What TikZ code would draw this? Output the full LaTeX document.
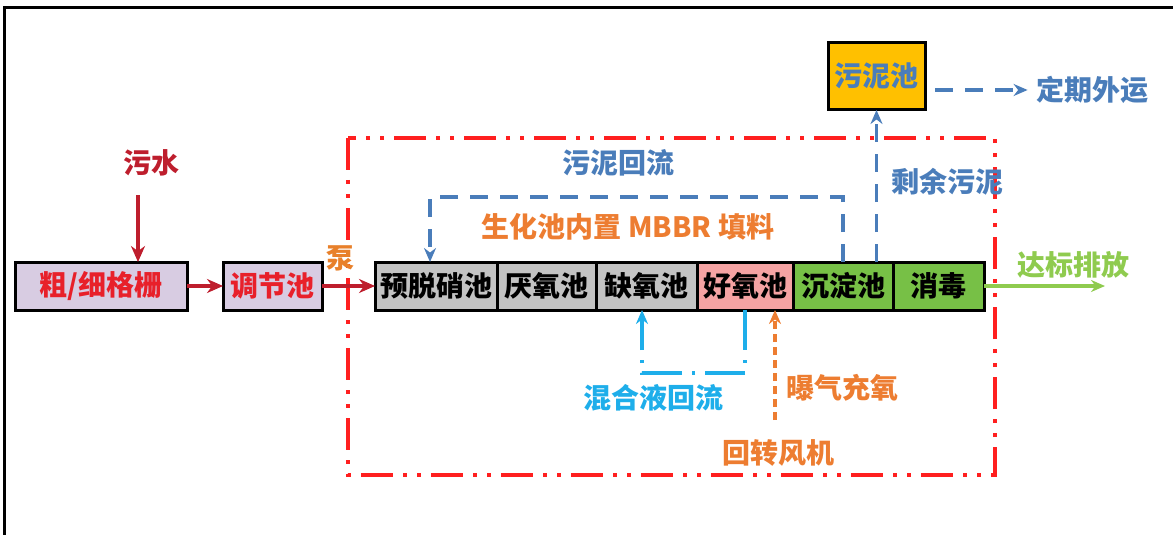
\documentclass[tikz,border=0pt]{standalone}
\usepackage{fontspec}
\newfontfamily\cjk{Noto Sans CJK SC}
\usetikzlibrary{arrows.meta,positioning}

\definecolor{lavbox}{HTML}{D8CCE2}
\definecolor{redtext}{HTML}{E8202A}
\definecolor{darkred}{HTML}{BE1E2D}
\definecolor{pumporange}{HTML}{E8802A}
\definecolor{framered}{HTML}{FF1F1F}
\definecolor{sludgeblue}{HTML}{4A7DBA}
\definecolor{sludgefill}{HTML}{FFC000}
\definecolor{mixcyan}{HTML}{1EAEEA}
\definecolor{airorange}{HTML}{ED7D31}
\definecolor{outgreen}{HTML}{8FCB4F}
\definecolor{poolgreen}{HTML}{77C046}
\definecolor{poolpink}{HTML}{F5A3A3}
\definecolor{poolgray}{HTML}{C3C3C3}

\tikzset{
    lbl/.style={font=\cjk\bfseries\fontsize{14}{16}\selectfont, inner sep=0pt},
    pool/.style={lbl, draw=black, line width=1.5pt, minimum height=24pt, outer sep=0pt},
    redflow/.style={darkred, line width=1.8pt, -{Stealth[length=8pt,width=7pt]}},
    bluedash/.style={sludgeblue, line width=1.9pt, dash pattern=on 9pt off 6pt},
    tip/.style={-{Stealth[length=7pt,width=6pt]}}
}

\begin{document}
\begin{tikzpicture}[x=0.5pt,y=-0.5pt]
    \useasboundingbox (0,0) rectangle (1173,535);

    % outer frame (top and left only)
    \draw[line width=1.5pt] (4,535) -- (4,8) -- (1173,8);

    % biochemical zone
    \draw[framered, line width=2pt, dash pattern=on 16pt off 5pt on 2pt off 5pt on 2pt off 5pt]
        (348,138) rectangle (995,475);

    % pre-treatment
    \node[pool, fill=lavbox, text=redtext, minimum width=86pt] (screen) at (101,286) {粗/细格栅};
    \node[pool, fill=lavbox, text=redtext, minimum width=49.5pt] (tank) at (272.5,286) {调节池};
    \node[lbl, text=darkred] (sewage) at (151,163) {污水};
    \node[lbl, text=pumporange] (pump) at (340,258) {泵};

    % tank row
    \node[pool, fill=poolgray, minimum width=61pt] (pre) at (436,286) {预脱硝池};
    \node[pool, fill=poolgray, minimum width=49.5pt, right=0pt of pre] (ana) {厌氧池};
    \node[pool, fill=poolgray, minimum width=50.5pt, right=0pt of ana] (anox) {缺氧池};
    \node[pool, fill=poolpink, minimum width=48pt, right=0pt of anox] (aer) {好氧池};
    \node[pool, fill=poolgreen, minimum width=50pt, right=0pt of aer] (sed) {沉淀池};
    \node[pool, fill=poolgreen, minimum width=45.5pt, right=0pt of sed] (dis) {消毒};

    % sludge tank
    \node[pool, fill=sludgefill, text=sludgeblue, minimum width=48.5pt, minimum height=33.5pt] (sludge) at (876.5,76.5) {污泥池};

    % labels
    \node[lbl, text=sludgeblue] (haul) at (1092,90) {定期外运};
    \node[lbl, text=sludgeblue] (surplus) at (947,182) {剩余污泥};
    \node[lbl, text=sludgeblue] (ras) at (618,163) {污泥回流};
    \node[lbl, text=airorange] (mbbr) at (628,227) {生化池内置 MBBR 填料};
    \node[lbl, text=mixcyan] (mix) at (653,398) {混合液回流};
    \node[lbl, text=airorange] (aeration) at (842,388) {曝气充氧};
    \node[lbl, text=airorange] (blower) at (778,453) {回转风机};
    \node[lbl, text=outgreen] (effluent) at (1073,265) {达标排放};

    % free ends
    \coordinate (inflow) at (138,195);
    \coordinate (rastop) at (430,197);
    \coordinate (mixbot) at (642,373);
    \coordinate (airin) at (775,420);
    \coordinate (outflow) at (1105,286);

    % main flow
    \draw[redflow] (inflow) -- (inflow |- screen.north);
    \draw[redflow] (screen) -- (tank);
    \draw[redflow] (tank) -- (pre);

    % sludge lines
    \draw[bluedash, tip] (sed.north) |- (rastop) -- (rastop |- pre.north);
    \draw[bluedash, tip] (sed.north -| sludge.south) -- (sludge.south);
    \draw[bluedash, tip] ([xshift=5pt]sludge.east |- haul.west) -- ([xshift=-4pt]haul.west);

    % mixed liquor return
    \draw[mixcyan, line width=1.8pt, dash pattern=on 20pt off 5pt on 1.5pt off 5pt, tip]
        (aer.south) |- (mixbot) -- (mixbot |- anox.south);

    % aeration
    \draw[airorange, line width=1.8pt, dash pattern=on 4pt off 2.5pt, tip] (airin) -- (airin |- aer.south);

    % effluent
    \draw[outgreen, line width=1.8pt, tip] (dis.east) -- (outflow);

\end{tikzpicture}
\end{document}
